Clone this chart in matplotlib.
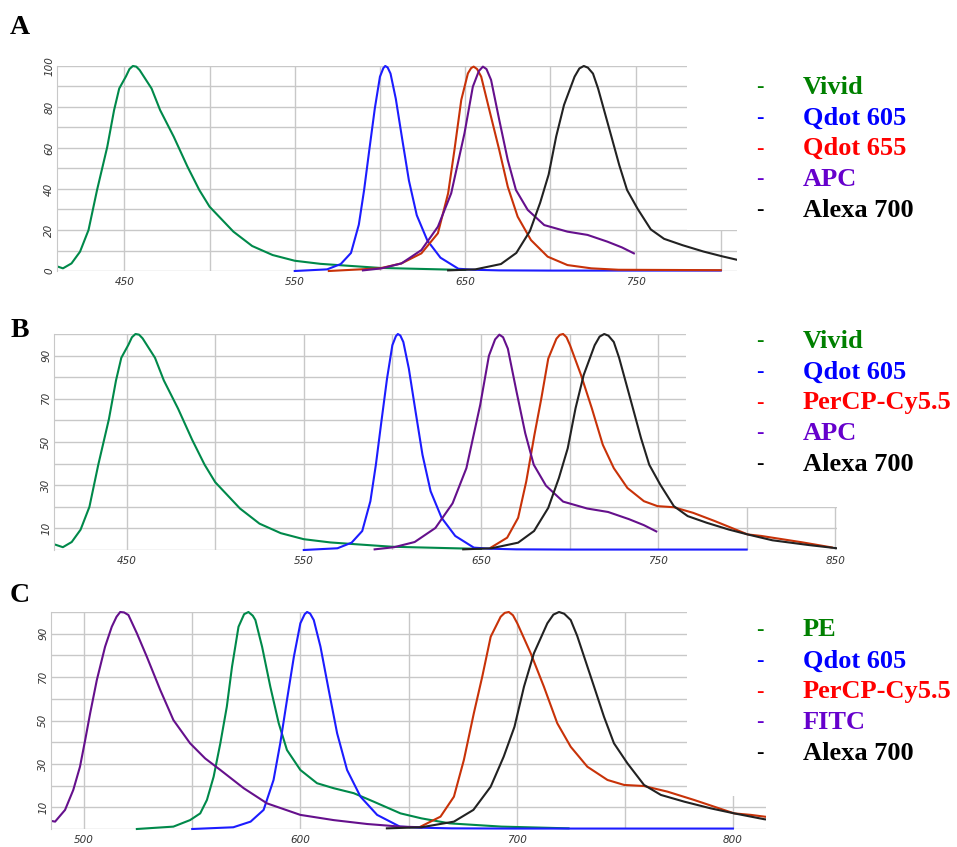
import matplotlib
matplotlib.use('Agg')
import matplotlib.pyplot as plt
from matplotlib.patches import Rectangle

# emission spectra (wavelength nm, normalised intensity)
vivid_nm = [410, 414, 419, 424, 429, 434, 440, 444, 447, 451, 453, 455, 457, 459, 466, 471,
            479, 487, 494, 500, 514, 525, 537, 550, 565, 577, 600, 625, 650]
vivid_val = [2.4, 1.3, 3.7, 9.4, 20, 39.5, 60.6, 78.5, 89, 95, 98.5, 100, 99.7, 98, 89, 78.5,
             65.5, 51, 39.5, 31.4, 19.2, 12.2, 7.8, 5.0, 3.5, 2.8, 1.5, 1.0, 0.5]

qdot605_nm = [550, 569, 577, 583, 587.6, 590.7, 593.8, 597, 600, 602, 603.1, 604.5, 606.2,
              609.3, 613.1, 617, 621.6, 627.8, 635.5, 646, 655, 670, 700, 800]
qdot605_val = [0, 0.8, 3.4, 8.8, 22.6, 39.5, 59.4, 79.4, 94.8, 99, 100, 99.3, 96.3,
               84, 64.1, 44.1, 27.2, 14.9, 6.5, 1.1, 0.6, 0.3, 0.2, 0.2]

qdot655_nm = [570, 600, 612.6, 624.3, 634, 640, 643.7, 647.7, 651.6, 653.5, 655, 657, 659.4,
              664.2, 670, 675, 680.8, 688.6, 698.4, 710, 724, 740, 800]
qdot655_val = [0, 1.3, 3.7, 8.6, 18.4, 37.9, 59, 83.4, 96.4, 99, 99.7, 98.5, 94.8,
               78.5, 59, 41.1, 26.5, 15.1, 7, 2.9, 1.3, 0.6, 0.4]

apc_nm = [590, 601, 612.6, 624.3, 634, 641.8, 649.6, 654.5, 658, 660.4, 662.5, 665.2, 670,
          675, 679.8, 686.7, 696.4, 710, 721.8, 733.5, 742, 749]
apc_val = [0.3, 1.3, 3.7, 10.2, 21.6, 37.9, 67.2, 89.9, 97.5, 99.7, 98.5, 93.2, 73.7,
           54.1, 39.5, 29.8, 22.4, 19.2, 17.6, 14.3, 11.5, 8.6]

alexa700_nm = [640, 656, 671, 680, 688, 694, 699, 703.4, 708, 714.2, 717, 719.6, 722, 725,
               728, 731.2, 735.8, 740.4, 745, 751.2, 758.9, 766.7, 777.5, 789.8, 800.6,
               814.5, 821, 835, 851]
alexa700_val = [0.3, 0.8, 3.4, 8.8, 19.5, 33.3, 47.1, 65.6, 81, 94.8, 98.8, 100, 99.2, 96.3,
                89, 79.4, 65.6, 51.7, 39.5, 30.3, 20.3, 15.7, 12.6, 9.5, 7.2,
                4.5, 3.8, 2.3, 0.8]

percp_nm = [655.6, 664.8, 671, 675.6, 680.2, 684.1, 688, 692.6, 694.5, 696.4, 698.3, 700.3,
            706.5, 712.6, 718.8, 725, 732.7, 742, 749.7, 758.9, 769.8, 782, 791.3, 800.6,
            808.3, 831, 848]
percp_val = [1.1, 5.7, 14.9, 31.8, 53.3, 70.2, 88.6, 97.8, 99.6, 100, 98.5, 94.8,
             81, 65.6, 48.7, 37.9, 28.7, 22.6, 20.3, 19.8, 17.2, 13.4, 10.3, 7.2,
             6.5, 3.6, 1.2]

pe_nm = [524.4, 541.3, 549, 553.7, 556.8, 559.9, 563, 566, 568.4, 571.4, 574, 576, 578,
         579.2, 582.3, 586.1, 590, 593.8, 600, 607.7, 615.4, 624.7, 633.9, 646.3, 656,
         669, 693, 724]
pe_val = [0, 1.1, 4.1, 7.2, 13.4, 24.1, 39.5, 56.4, 74.8, 93.2, 99, 100, 98.3,
          96.3, 84, 65.6, 48.7, 36.4, 27.2, 21.1, 18.8, 16.5, 12.6, 7.2, 4.9,
          2.6, 1.1, 0.3]

fitc_nm = [485, 486.6, 491.2, 495, 498.1, 500.5, 502.8, 505.9, 509.7, 512.8, 515, 516.7,
           518.5, 520.5, 524.4, 529, 535.2, 541.3, 549, 556, 563, 573.8, 584.6, 600,
           615.4, 630.9, 646.3, 656]
fitc_val = [3.7, 3.4, 8.8, 18, 28.7, 41, 53.3, 68.7, 84, 93.2, 97.8, 100,
            99.8, 98.6, 90.2, 79.4, 64.1, 50.2, 39.5, 32.5, 27.2, 18.8, 11.8, 6.5,
            4.1, 2.3, 1.1, 0.8]

# panel contents
panel_letters = ['A', 'B', 'C']
panel_labels = [
    ['Vivid', 'Qdot 605', 'Qdot 655', 'APC', 'Alexa 700'],
    ['Vivid', 'Qdot 605', 'PerCP-Cy5.5', 'APC', 'Alexa 700'],
    ['PE', 'Qdot 605', 'PerCP-Cy5.5', 'FITC', 'Alexa 700'],
]
panel_xticks = [[450, 550, 650, 750], [450, 550, 650, 750, 850], [500, 600, 700, 800]]
panel_yticks = [[0, 20, 40, 60, 80, 100], [10, 30, 50, 70, 90], [10, 30, 50, 70, 90]]

spectra = {
    'Vivid': (vivid_nm, vivid_val),
    'Qdot 605': (qdot605_nm, qdot605_val),
    'Qdot 655': (qdot655_nm, qdot655_val),
    'APC': (apc_nm, apc_val),
    'Alexa 700': (alexa700_nm, alexa700_val),
    'PerCP-Cy5.5': (percp_nm, percp_val),
    'PE': (pe_nm, pe_val),
    'FITC': (fitc_nm, fitc_val),
}

curve_colors = ['#00894a', '#1c1cff', '#c83208', '#65108c', '#222222']
text_colors = ['#008000', '#0000ff', '#ff0000', '#6600cc', '#000000']

W, H = 957, 847
fig = plt.figure(figsize=(W / 100, H / 100), dpi=100)

# axes boxes in pixels: left, right, top, bottom
boxes = [(57, 737, 66, 271), (54, 837, 334, 550), (51, 766, 612, 829)]
xlims = [(410.5, 809.5), (409, 851), (484.7, 815.3)]
# white legend background that hides the upper-right grid
masks = [(780, 20), (766, 20), (779, 15)]
letter_y = [28, 330, 595]
legend_top = [87, 341, 630]
grid_col = '#c8c8c8'

for i in range(3):
    l, r, t, b = boxes[i]
    ax = fig.add_axes([l / W, 1 - b / H, (r - l) / W, (b - t) / H])
    ax.set_xlim(*xlims[i])
    ax.set_ylim(0, 100)
    x0, x1 = xlims[i]
    xt = [v for v in range(400, 900, 50) if x0 <= v <= x1]
    ax.set_xticks(xt)
    ax.set_yticks(range(0, 101, 10))
    ax.set_xticklabels([str(v) if v in panel_xticks[i] else '' for v in xt])
    ax.set_yticklabels([str(v) if v in panel_yticks[i] else '' for v in range(0, 101, 10)],
                       rotation=90, va='center')
    ax.grid(True, color=grid_col, lw=1.0)
    ax.set_axisbelow(True)
    ax.tick_params(length=0, labelsize=7.5, labelcolor='#333333')
    ax.tick_params(axis='x', pad=4.5)
    ax.tick_params(axis='y', pad=2)
    for lab in ax.get_xticklabels() + ax.get_yticklabels():
        lab.set_fontstyle('italic')
    for s in ['top', 'right', 'bottom']:
        ax.spines[s].set_visible(False)
    ax.spines['left'].set_color(grid_col)

    mx, my = masks[i]
    ax.add_patch(Rectangle((mx, my), x1 - mx + 5, 105 - my, facecolor='white',
                           edgecolor='none', zorder=1, clip_on=False))

    # clip curves at the x limits only, so the ones at 0 and 100 are not cut in half
    clip = Rectangle((x0, -5), x1 - x0, 110, transform=ax.transData)
    for k, name in enumerate(panel_labels[i]):
        nm, val = spectra[name]
        ln, = ax.plot(nm, val, color=curve_colors[k], lw=1.5, zorder=2 + k * 0.1)
        ln.set_clip_path(clip)

    fig.text(20 / W, 1 - letter_y[i] / H, panel_letters[i], fontsize=20, fontweight='bold',
             family='Liberation Serif', ha='center', va='center')
    for k, name in enumerate(panel_labels[i]):
        yy = 1 - (legend_top[i] + k * 30.8) / H
        fig.text(760 / W, yy, '-', color=text_colors[k], fontsize=16, fontweight='bold',
                 family='Liberation Serif', ha='center', va='center')
        fig.text(803 / W, yy, name, color=text_colors[k], fontsize=19, fontweight='bold',
                 family='Liberation Serif', ha='left', va='center')

fig.savefig('out.png', dpi=100)
